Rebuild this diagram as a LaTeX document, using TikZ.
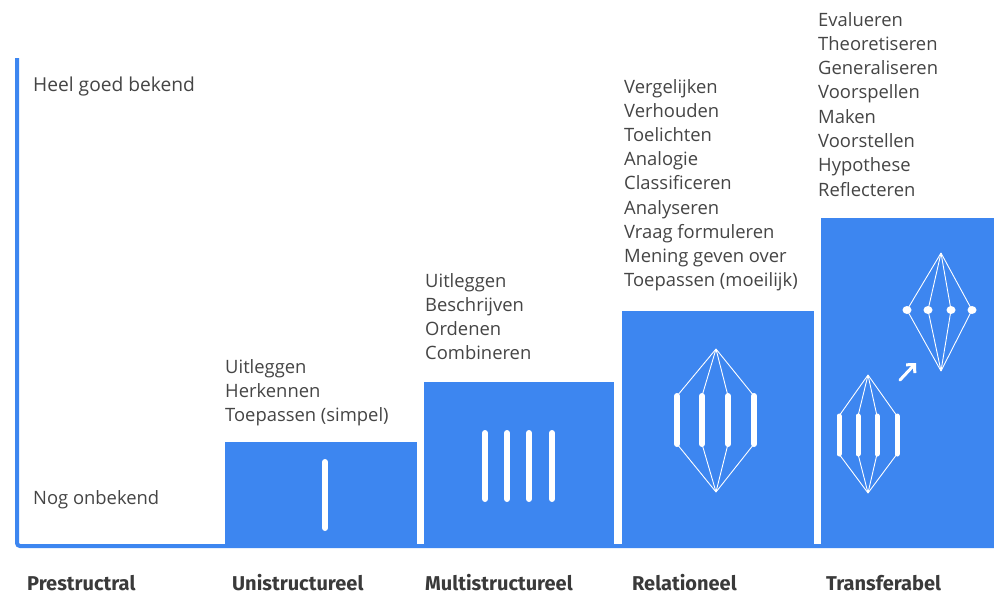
\documentclass[tikz,border=0pt]{standalone}
\usepackage{fontspec}
\setmainfont{Open Sans}
\newfontfamily\labfont{Fira Sans}
\usetikzlibrary{arrows.meta,shapes.geometric}
\definecolor{barblue}{HTML}{3D86F0}
\definecolor{txt}{HTML}{454545}
\definecolor{labtxt}{HTML}{3A3A3A}
\begin{document}
\begin{tikzpicture}[x=1pt,y=-1pt,
  lst/.style={anchor=base west, inner sep=0pt, font=\fontsize{18.4}{20}\selectfont, text=txt},
  lab/.style={anchor=base west, inner sep=0pt, font=\labfont\bfseries\fontsize{20}{22}\selectfont, text=labtxt},
  bar/.style={fill=barblue, draw=none},
  stem/.style={draw=white, line width=6pt, line cap=round},
  thin/.style={draw=white, line width=0.9pt},
  dot/.style={fill=white, draw=none, ellipse, minimum width=9pt, minimum height=8pt, inner sep=0pt}]
\useasboundingbox (0,0) rectangle (994,595);
\fill[white] (0,0) rectangle (994,595);

% bars
\fill[bar] (225,442) rectangle (417,546);
\fill[bar] (424,382) rectangle (614,546);
\fill[bar] (622,311) rectangle (814,546);
\fill[bar] (821,218) rectangle (994,546);

% axis
\coordinate (axtop) at (17,58);
\coordinate (axend) at (994,546);
\draw[barblue, line width=4pt, rounded corners=3pt] (axtop) |- (axend);

% texts
\node[lst, font=\fontsize{19.2}{20}\selectfont] (high) at (33,91) {Heel goed bekend};
\node[lst] (low) at (33,504) {Nog onbekend};

\foreach \t [count=\i] in {Uitleggen,Herkennen,Toepassen (simpel)}
  \node[lst] (uni\i) at (225,{373+24*(\i-1)}) {\t};
\foreach \t [count=\i] in {Uitleggen,Beschrijven,Ordenen,Combineren}
  \node[lst] (mul\i) at (425,{287+24*(\i-1)}) {\t};
\foreach \t [count=\i] in {Vergelijken,Verhouden,Toelichten,Analogie,Classificeren,Analyseren,Vraag formuleren,Mening geven over,Toepassen (moeilijk)}
  \node[lst] (rel\i) at (624,{93+24.2*(\i-1)}) {\t};
\foreach \t [count=\i] in {Evalueren,Theoretiseren,Generaliseren,Voorspellen,Maken,Voorstellen,Hypothese,Reflecteren}
  \node[lst] (tra\i) at (818,{26+24.3*(\i-1)}) {\t};

\node[lab] (l1) at (27,590) {Prestructral};
\node[lab] (l2) at (232,590) {Unistructureel};
\node[lab] (l3) at (425,590) {Multistructureel};
\node[lab] (l4) at (632,590) {Relationeel};
\node[lab] (l5) at (826,590) {Transferabel};

% unistructural mark
\coordinate (u1t) at (325,462); \coordinate (u1b) at (325,528);
\draw[stem] (u1t) -- (u1b);

% multistructural marks
\foreach \x [count=\i] in {485,507,529,552}{
  \coordinate (m\i t) at (\x,433); \coordinate (m\i b) at (\x,499);
  \draw[stem] (m\i t) -- (m\i b);
}

% relational diamond
\coordinate (rtop) at (716,349); \coordinate (rbot) at (716,492);
\foreach \x [count=\i] in {677,702,728,754}{
  \coordinate (r\i t) at (\x,396); \coordinate (r\i b) at (\x,444);
  \draw[stem] (r\i t) -- (r\i b);
  \draw[thin] (rtop) -- (r\i t);
  \draw[thin] (r\i b) -- (rbot);
}

% transfer: small diamond
\coordinate (stop) at (868,375); \coordinate (sbot) at (868,493);
\foreach \x [count=\i] in {839,858,877,897}{
  \coordinate (s\i t) at (\x,416); \coordinate (s\i b) at (\x,454);
  \draw[stem, line width=5pt] (s\i t) -- (s\i b);
  \draw[thin] (stop) -- (s\i t);
  \draw[thin] (s\i b) -- (sbot);
}

% transfer: upper diamond with dots
\coordinate (ttop) at (941,253); \coordinate (tbot) at (941,371);
\foreach \x [count=\i] in {907,928,951,972}{
  \node[dot] (d\i) at (\x,310) {};
  \draw[thin] (ttop) -- (d\i.center);
  \draw[thin] (d\i.center) -- (tbot);
}

% arrow
\coordinate (aS) at (900,380); \coordinate (aE) at (916,363);
\draw[white, line width=3pt, line cap=round, -{Straight Barb[length=6pt,width=12pt,line width=3pt]}] (aS) -- (aE);
\end{tikzpicture}
\end{document}
